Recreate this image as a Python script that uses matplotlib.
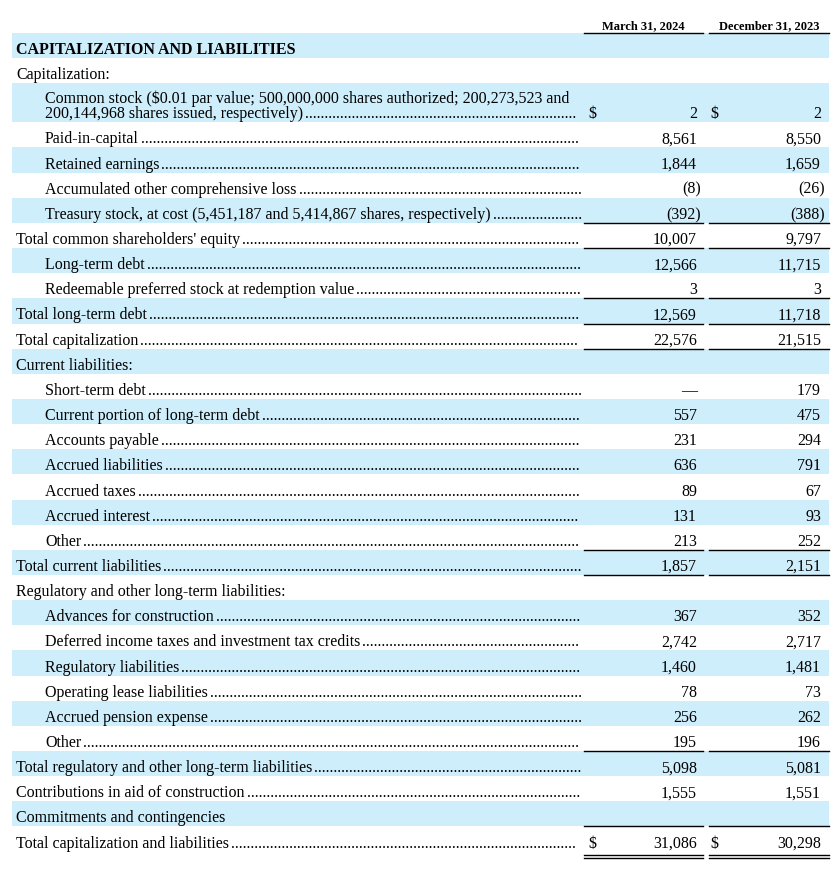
import matplotlib
matplotlib.use("Agg")
import matplotlib.pyplot as plt

plt.rcParams["font.family"] = ["Liberation Serif", "DejaVu Serif"]

# ─── data ────────────────────────────────────────────────────────────────────
columns = ["March 31, 2024", "December 31, 2023"]

labels = [
    "CAPITALIZATION AND LIABILITIES",
    "Capitalization:",
    "Common stock ($0.01 par value; 500,000,000 shares authorized; 200,273,523 and\n"
    "200,144,968 shares issued, respectively)",
    "Paid-in-capital",
    "Retained earnings",
    "Accumulated other comprehensive loss",
    "Treasury stock, at cost (5,451,187 and 5,414,867 shares, respectively)",
    "Total common shareholders' equity",
    "Long-term debt",
    "Redeemable preferred stock at redemption value",
    "Total long-term debt",
    "Total capitalization",
    "Current liabilities:",
    "Short-term debt",
    "Current portion of long-term debt",
    "Accounts payable",
    "Accrued liabilities",
    "Accrued taxes",
    "Accrued interest",
    "Other",
    "Total current liabilities",
    "Regulatory and other long-term liabilities:",
    "Advances for construction",
    "Deferred income taxes and investment tax credits",
    "Regulatory liabilities",
    "Operating lease liabilities",
    "Accrued pension expense",
    "Other",
    "Total regulatory and other long-term liabilities",
    "Contributions in aid of construction",
    "Commitments and contingencies",
    "Total capitalization and liabilities",
]

mar_2024 = [None, None, 2, 8561, 1844, -8, -392, 10007, 12566, 3, 12569, 22576,
            None, 0, 557, 231, 636, 89, 131, 213, 1857,
            None, 367, 2742, 1460, 78, 256, 195, 5098, 1555, None, 31086]
dec_2023 = [None, None, 2, 8550, 1659, -26, -388, 9797, 11715, 3, 11718, 21515,
            None, 179, 475, 294, 791, 67, 93, 252, 2151,
            None, 352, 2717, 1481, 73, 262, 196, 5081, 1551, None, 30298]

# row roles
indented = {2, 3, 4, 5, 6, 8, 9, 13, 14, 15, 16, 17, 18, 19, 22, 23, 24, 25, 26, 27}
headings = {0, 1, 12, 21, 30}          # no dot leaders
dollar_rows = {2, 31}
underlined = {6, 7, 9, 10, 11, 19, 20, 27, 30}
double_underlined = {31}

# ─── layout (pixels) ─────────────────────────────────────────────────────────
W, H = 840, 870
TOP = 34
ROW_H = 25.15
TALL_H = 39
FS = 11.5
SHADE = "#cdeefa"
COL_RIGHT = [697, 821]
COL_SPAN = [(584, 703), (709, 829)]
DOLLAR_X = [588, 710]


def fmt(v):
    if v is None:
        return ""
    if v == 0:
        return "\u2014"
    if v < 0:
        return f"({-v:,})"
    return f"{v:,}"


fig = plt.figure(figsize=(W / 100, H / 100), dpi=100)
ax = fig.add_axes([0, 0, 1, 1])
ax.set_xlim(0, W)
ax.set_ylim(H, 0)
ax.axis("off")
renderer = fig.canvas.get_renderer()
inv = ax.transData.inverted()

# width of one leader dot
probe = ax.text(0, 0, "." * 100, fontsize=FS)
bb = probe.get_window_extent(renderer)
dot_w = (inv.transform((bb.x1, 0))[0] - inv.transform((bb.x0, 0))[0]) / 100
probe.remove()

# column headers
for j, name in enumerate(columns):
    x0, x1 = COL_SPAN[j]
    ax.text((x0 + x1) / 2, 29, name, ha="center", va="baseline",
            fontsize=9, fontweight="bold")
    ax.plot([x0, x1], [33.5, 33.5], color="black", lw=1.0)

y = TOP
for i, lab in enumerate(labels):
    h = TALL_H if "\n" in lab else ROW_H
    bottom = y + h
    if i % 2 == 0:
        ax.axhspan(y, bottom, xmin=12 / W, xmax=829 / W, color=SHADE, lw=0, zorder=0)
    base = bottom - 5
    x_lab = 45 if i in indented else 16
    lines = lab.split("\n")
    t = None
    for k, line in enumerate(lines):
        yy = base - 15 * (len(lines) - 1 - k)
        t = ax.text(x_lab, yy, line, ha="left", va="baseline", fontsize=FS,
                    fontweight="bold" if i == 0 else "normal")
    if i not in headings:
        bb = t.get_window_extent(renderer)
        x_end = inv.transform((bb.x1, 0))[0] + 2
        stop = 579 if i in dollar_rows else 582
        n = int((stop - x_end) / dot_w)
        if n > 0:
            ax.text(x_end, base, "." * n, ha="left", va="baseline", fontsize=FS)
    for j, vals in enumerate((mar_2024, dec_2023)):
        s = fmt(vals[i])
        if s:
            xr = COL_RIGHT[j] + (4 if s.endswith(")") else 0)
            ax.text(xr, base, s, ha="right", va="baseline", fontsize=FS)
        if i in dollar_rows:
            ax.text(DOLLAR_X[j], base, "$", ha="left", va="baseline", fontsize=FS)
        x0, x1 = COL_SPAN[j]
        if i in underlined:
            ax.plot([x0, x1], [bottom, bottom], color="black", lw=1.0)
        if i in double_underlined:
            ax.plot([x0, x1], [bottom + 3.5, bottom + 3.5], color="black", lw=1.0)
            ax.plot([x0, x1], [bottom + 6.5, bottom + 6.5], color="black", lw=1.0)
    y = bottom

fig.savefig("out.png", dpi=100)
